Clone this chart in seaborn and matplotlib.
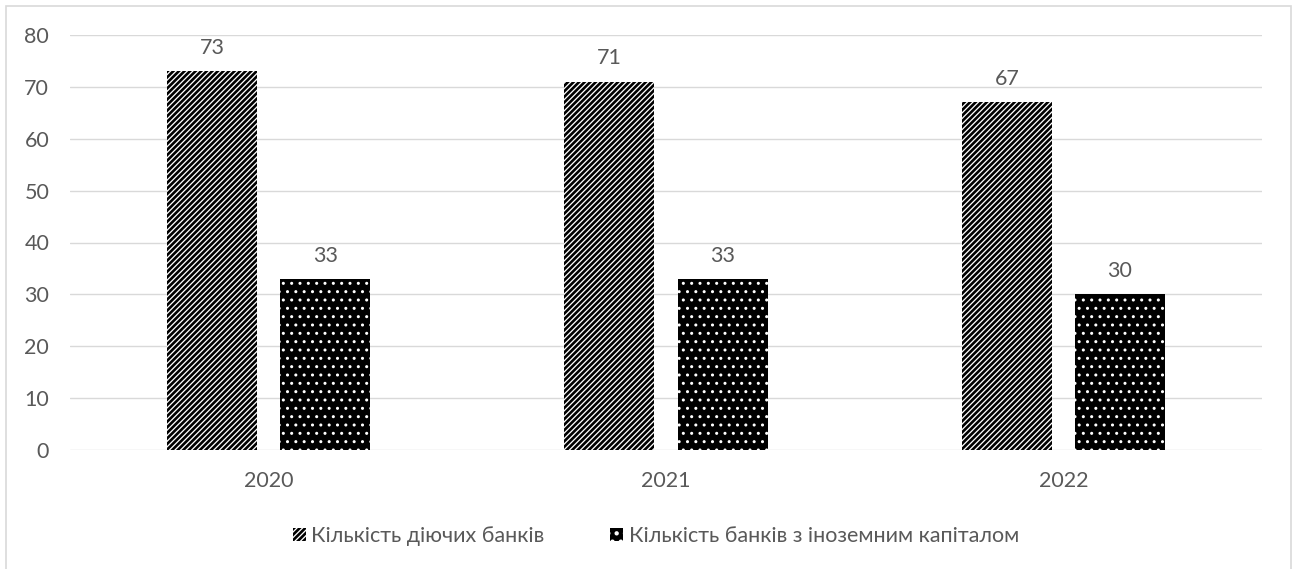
import matplotlib
matplotlib.use("Agg")
import matplotlib.pyplot as plt
from matplotlib.patches import Patch, Rectangle
import seaborn as sns
import pandas as pd

# ---- data ----
years = ["2020", "2021", "2022"]
series_names = ["Кількість діючих банків", "Кількість банків з іноземним капіталом"]
active_banks = [73, 71, 67]
foreign_banks = [33, 33, 30]
y_ticks = [0, 10, 20, 30, 40, 50, 60, 70, 80]

df = pd.DataFrame({
    "year": years * 2,
    "series": [series_names[0]] * 3 + [series_names[1]] * 3,
    "value": active_banks + foreign_banks,
})

sns.set_theme(style="white")
plt.rcParams["font.family"] = ["Lato", "DejaVu Sans"]
plt.rcParams["hatch.linewidth"] = 1.9
TXT = "#595959"
GRID = "#d9d9d9"
FS = 15.5

W, H = 1299, 569
fig = plt.figure(figsize=(W / 100, H / 100), dpi=100)
ax = fig.add_axes([70 / W, (H - 450) / H, (1262 - 70) / W, (450 - 35) / H])

sns.barplot(data=df, x="year", y="value", hue="series", order=years,
            hue_order=series_names, width=0.569, gap=0.204, ax=ax,
            legend=False, linewidth=0, saturation=1)

styles = [
    dict(facecolor="white", edgecolor="black", hatch="//////", hlw=1.9),
    dict(facecolor="black", edgecolor="white", hatch="..", hlw=1.0),
]
for cont, st in zip(ax.containers, styles):
    for bar in cont:
        bar.set_facecolor(st["facecolor"])
        bar.set_edgecolor(st["edgecolor"])
        bar.set_hatch(st["hatch"])
        bar.set_linewidth(0)
        if hasattr(bar, "set_hatch_linewidth"):
            bar.set_hatch_linewidth(st["hlw"])
    ax.bar_label(cont, padding=9.5, color=TXT, fontsize=FS)

ax.set_ylim(0, 80)
ax.set_yticks(y_ticks)
ax.set_xlim(-0.5, 2.5)
ax.set_xlabel("")
ax.set_ylabel("")
ax.grid(axis="y", color=GRID, linewidth=1.0)
ax.set_axisbelow(True)
for s in ax.spines.values():
    s.set_visible(False)
ax.tick_params(axis="both", length=0, labelsize=FS, labelcolor=TXT)
ax.tick_params(axis="y", pad=15)
ax.tick_params(axis="x", pad=15)

handles = []
for st in styles:
    p = Patch(facecolor=st["facecolor"], edgecolor=st["edgecolor"],
              hatch=st["hatch"], linewidth=0)
    if hasattr(p, "set_hatch_linewidth"):
        p.set_hatch_linewidth(st["hlw"])
    handles.append(p)
fig.legend(handles, series_names, loc="center", bbox_to_anchor=(656 / W, (H - 536) / H),
           ncol=2, frameon=False, fontsize=FS, labelcolor=TXT,
           handlelength=0.6, handleheight=0.6, handletextpad=0.25,
           columnspacing=3.05)

# outer chart border
fig.patches.append(Rectangle((6 / W, -0.1), (1291 - 6) / W, (H - 6) / H + 0.1,
                             transform=fig.transFigure, fill=False,
                             edgecolor=GRID, linewidth=1.2))

fig.savefig("out.png", dpi=100, facecolor="white")
